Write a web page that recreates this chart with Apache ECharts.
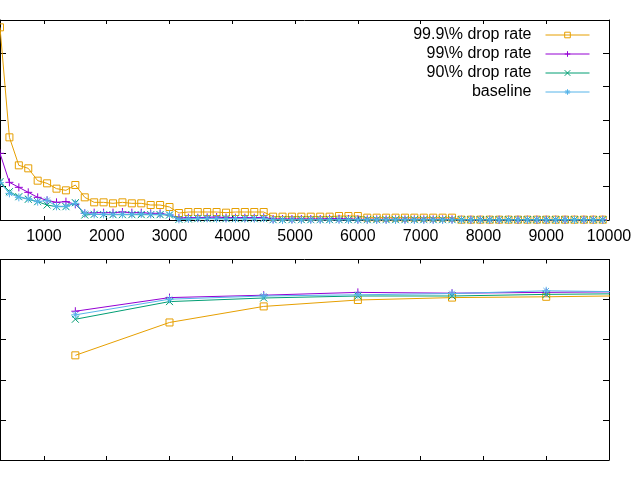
<!DOCTYPE html>
<html><head><meta charset="utf-8">
<script src="https://cdn.jsdelivr.net/npm/echarts@6/dist/echarts.min.js"></script>
<style>html,body{margin:0;padding:0;background:#fff}#c{width:640px;height:480px}</style>
</head><body><div id="c"></div>
<script>
const seriesNames = ["99.9\\% drop rate", "99\\% drop rate", "90\\% drop rate", "baseline"];
const xTickLabels = [1000,2000,3000,4000,5000,6000,7000,8000,9000,10000];

const xTop = [300,450,600,750,900,1050,1200,1350,1500,1650,
 1800,1950,2100,2250,2400,2550,2700,2850,3000,3150,
 3300,3450,3600,3750,3900,4050,4200,4350,4500,4650,
 4800,4950,5100,5250,5400,5550,5700,5850,6000,6150,
 6300,6450,6600,6750,6900,7050,7200,7350,7500,7650,
 7800,7950,8100,8250,8400,8550,8700,8850,9000,9150,
 9300,9450,9600,9750,9900];

const top999 = [5.78,2.48,1.64,1.55,1.18,1.10,0.94,0.89,1.05,0.68,
 0.53,0.53,0.50,0.53,0.50,0.50,0.45,0.45,0.39,0.21,
 0.24,0.24,0.24,0.24,0.22,0.24,0.24,0.24,0.24,0.10,
 0.10,0.10,0.10,0.10,0.10,0.10,0.12,0.12,0.12,0.07,
 0.07,0.07,0.07,0.07,0.07,0.07,0.07,0.07,0.07,0.01,
 0.01,0.01,0.01,0.01,0.01,0.01,0.01,0.01,0.01,0.01,
 0.01,0.01,0.01,0.01,0.01];

const top99 = [2.00,1.13,0.98,0.83,0.68,0.59,0.53,0.55,0.47,0.20,
 0.22,0.22,0.22,0.24,0.22,0.22,0.20,0.20,0.15,0.06,
 0.07,0.07,0.08,0.09,0.07,0.07,0.07,0.07,0.08,0.03,
 0.03,0.03,0.03,0.03,0.03,0.04,0.04,0.03,0.02,0.02,
 0.02,0.02,0.02,0.02,0.02,0.02,0.02,0.02,0.02,0.01,
 0.01,0.01,0.01,0.01,0.01,0.01,0.01,0.01,0.01,0.01,
 0.01,0.01,0.01,0.01,0.01];

const top90 = [1.15,0.85,0.70,0.62,0.55,0.45,0.40,0.40,0.52,0.15,
 0.17,0.16,0.16,0.16,0.16,0.16,0.16,0.16,0.15,0.02,
 0.03,0.04,0.04,0.04,0.04,0.04,0.04,0.04,0.04,0.01,
 0.01,0.01,0.01,0.01,0.01,0.01,0.01,0.01,0.01,0.01,
 0.01,0.01,0.01,0.01,0.01,0.01,0.01,0.01,0.01,0.01,
 0.01,0.01,0.01,0.01,0.01,0.01,0.01,0.01,0.01,0.01,
 0.01,0.01,0.01,0.01,0.01];

const topBase = [1.12,0.80,0.68,0.64,0.55,0.59,0.41,0.41,0.50,0.20,
 0.17,0.17,0.17,0.17,0.17,0.18,0.17,0.17,0.17,0.02,
 0.03,0.05,0.05,0.04,0.04,0.04,0.04,0.04,0.05,0.00,
 0.00,0.00,0.00,0.00,0.00,0.00,0.00,0.00,0.00,0.00,
 0.00,0.00,0.00,0.00,0.00,0.00,0.00,0.00,0.00,0.00,
 0.00,0.00,0.00,0.00,0.00,0.00,0.00,0.00,0.00,0.00,
 0.00,0.00,0.00,0.00,0.00];

const xBottom = [1500,3000,4500,6000,7500,9000,10500];
const bot999 = [2.61,3.43,3.83,3.99,4.05,4.07,4.10];
const bot99 = [3.71,4.05,4.11,4.18,4.16,4.18,4.20];
const bot90 = [3.51,3.95,4.04,4.09,4.09,4.13,4.15];
const botBase = [3.62,4.01,4.09,4.12,4.15,4.22,4.19];

const colors = ['#e69f00', '#9400d3', '#009e73', '#56b4e9'];
const symbols = [
  'path://M0,0H10V10H0Z',
  'path://M5,0V10M0,5H10',
  'path://M0,0L10,10M10,0L0,10',
  'path://M5,0V10M0,5H10M1.5,1.5L8.5,8.5M8.5,1.5L1.5,8.5'
];
const symSizes = [7, 8, 7, 8];

function zip(xs, ys) { return xs.map((x, i) => [x, ys[i]]); }

function mkSeries(i, gridIdx, xs, ys) {
  return {
    name: seriesNames[i], type: 'line',
    xAxisIndex: gridIdx * 2, yAxisIndex: gridIdx * 2,
    data: zip(xs, ys),
    symbol: symbols[i], symbolSize: symSizes[i], showAllSymbol: true,
    lineStyle: { color: colors[i], width: 1 },
    itemStyle: { color: 'rgba(0,0,0,0)', borderColor: colors[i], borderWidth: 1 },
    emphasis: { disabled: true },
    clip: true, z: 2 + i
  };
}

const font = 'Liberation Sans';
function xAx(gridIndex, pos, labels) {
  return {
    type: 'value', gridIndex, position: pos, min: 300, max: 10000,
    axisLine: { show: true, onZero: false, lineStyle: { color: '#000', width: 1 } },
    axisTick: { show: true, inside: true, length: 4, lineStyle: { color: '#000' }, customValues: xTickLabels },
    axisLabel: { show: labels, color: '#000', fontFamily: font, fontSize: 16, margin: 9, customValues: xTickLabels, formatter: v => String(v) },
    splitLine: { show: false }
  };
}
function yAx(gridIndex, pos, max) {
  return {
    type: 'value', gridIndex, position: pos, min: 0, max: max, interval: 1,
    axisLine: { show: true, onZero: false, lineStyle: { color: '#000', width: 1 } },
    axisTick: { show: true, inside: true, length: 6, lineStyle: { color: '#000' } },
    axisLabel: { show: false },
    splitLine: { show: false }
  };
}

const legendTops = [27, 46, 65, 84];
const legends = seriesNames.map((n, i) => ({
  data: [n], orient: 'vertical', align: 'right', right: 50, top: legendTops[i],
  padding: 0, itemWidth: 44, itemHeight: 7, selectedMode: false,
  itemStyle: { borderWidth: 1 },
  lineStyle: { width: 1 },
  textStyle: { color: '#000', fontFamily: font, fontSize: 16, padding: [0, 9, 0, 0] }
}));

const option = {
  animation: false,
  backgroundColor: '#fff',
  grid: [
    { left: 0, right: 31, top: 20, height: 200 },
    { left: 0, right: 31, top: 259.5, height: 200.5 }
  ],
  xAxis: [xAx(0, 'bottom', true), xAx(0, 'top', false), xAx(1, 'bottom', false), xAx(1, 'top', false)],
  yAxis: [yAx(0, 'left', 6), yAx(0, 'right', 6), yAx(1, 'left', 5), yAx(1, 'right', 5)],
  legend: legends,
  series: [
    mkSeries(0, 0, xTop, top999), mkSeries(1, 0, xTop, top99), mkSeries(2, 0, xTop, top90), mkSeries(3, 0, xTop, topBase),
    mkSeries(0, 1, xBottom, bot999), mkSeries(1, 1, xBottom, bot99), mkSeries(2, 1, xBottom, bot90), mkSeries(3, 1, xBottom, botBase)
  ]
};
const chart = echarts.init(document.getElementById('c'), null, { renderer: 'canvas' });
chart.setOption(option);
</script></body></html>
